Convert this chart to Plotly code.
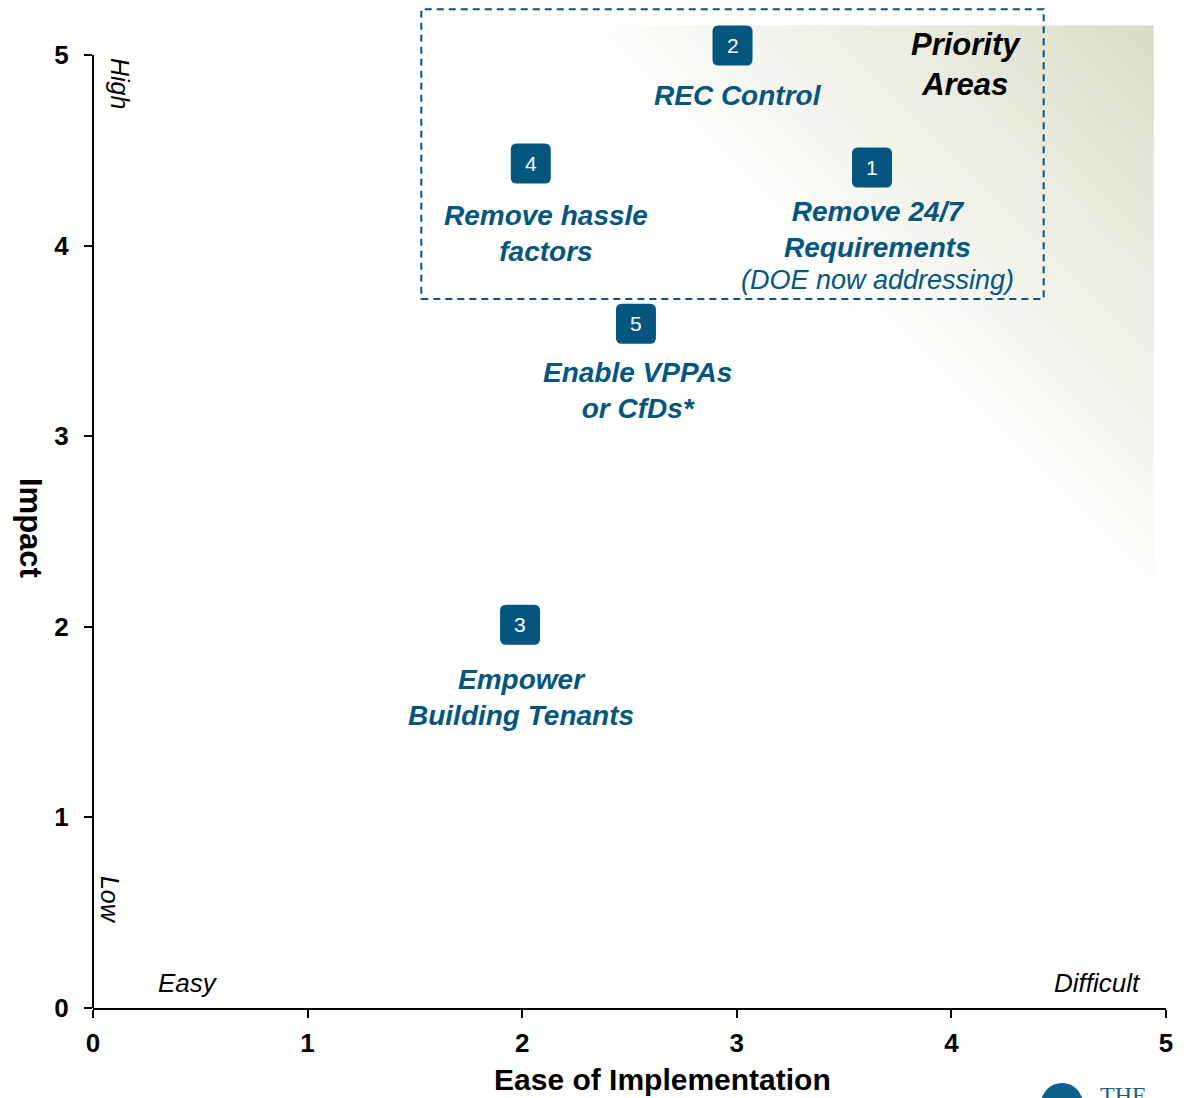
import numpy as np
import plotly.graph_objects as go

# Policy options scored on ease of implementation (x) and impact (y)
option_ids = [1, 2, 3, 4, 5]
ease = [3.63, 2.98, 1.99, 2.04, 2.53]
impact = [4.41, 5.05, 2.01, 4.43, 3.59]
option_titles = [
    "Remove 24/7<br>Requirements",
    "REC Control",
    "Empower<br>Building Tenants",
    "Remove hassle<br>factors",
    "Enable VPPAs<br>or CfDs*",
]
option_notes = ["(DOE now addressing)", "", "", "", ""]

tick_vals = [0, 1, 2, 3, 4, 5]
tick_text = ["0", "1", "2", "3", "4", "5"]

# Dashed "priority" box and the shaded wedge behind it (data units)
priority_x = [1.53, 4.43]
priority_y = [3.72, 5.24]
wedge_x = [2.18, 4.94]
wedge_y = [2.04, 5.15]

BLUE = "#05567f"
FONT = "Liberation Sans"

fig = go.Figure()

# Shaded wedge: fades from the diagonal toward the top-right corner
gx = np.linspace(wedge_x[0], wedge_x[1], 300)
gy = np.linspace(wedge_y[0], wedge_y[1], 300)
GX, GY = np.meshgrid(gx, gy)
t = (GX - wedge_x[0]) / (wedge_x[1] - wedge_x[0]) - (wedge_y[1] - GY) / (wedge_y[1] - wedge_y[0])
z = np.where(t >= 0, t, np.nan)
fig.add_trace(go.Heatmap(
    x=gx, y=gy, z=z, zmin=0, zmax=1,
    colorscale=[[0, "#ffffff"], [1, "#dbdcc6"]],
    showscale=False, hoverinfo="skip", zsmooth=False,
))

# invisible points so the options carry hover info
fig.add_trace(go.Scatter(
    x=ease, y=impact, mode="markers",
    marker=dict(size=40, color="rgba(0,0,0,0)"),
    text=[t_.replace("<br>", " ") for t_ in option_titles],
    hovertemplate="%{text}<br>Ease %{x}<br>Impact %{y}<extra></extra>",
    showlegend=False,
))

shapes = []
annotations = []

# priority box
shapes.append(dict(
    type="rect", xref="x", yref="y",
    x0=priority_x[0], x1=priority_x[1], y0=priority_y[0], y1=priority_y[1],
    line=dict(color=BLUE, width=2, dash="7px,5px"), fillcolor="rgba(0,0,0,0)",
    layer="above",
))

# y-axis line only up to the top tick
shapes.append(dict(
    type="line", xref="paper", yref="y", x0=0, x1=0, y0=0, y1=5,
    line=dict(color="black", width=2), layer="above",
))

# rounded square badges
h, r = 20, 6
badge = (f"M {-h+r},{-h} L {h-r},{-h} Q {h},{-h} {h},{-h+r} L {h},{h-r} Q {h},{h} {h-r},{h} "
         f"L {-h+r},{h} Q {-h},{h} {-h},{h-r} L {-h},{-h+r} Q {-h},{-h} {-h+r},{-h} Z")
# pixel offsets of each caption from its badge centre
label_shift = {1: (5, -27), 2: (5, -33), 3: (1, -37), 4: (15, -34), 5: (2, -31)}
note_shift = (5, -96)

for oid, x, y, title, note in zip(option_ids, ease, impact, option_titles, option_notes):
    shapes.append(dict(
        type="path", xref="x", yref="y", xsizemode="pixel", ysizemode="pixel",
        xanchor=x, yanchor=y, path=badge, fillcolor=BLUE, line=dict(width=0),
        layer="above",
    ))
    annotations.append(dict(
        x=x, y=y, xref="x", yref="y", text=str(oid), showarrow=False,
        font=dict(family=FONT, size=21, color="white"),
        xanchor="center", yanchor="middle",
    ))
    dx, dy = label_shift[oid]
    annotations.append(dict(
        x=x, y=y, xref="x", yref="y", text=f"<b><i>{title}</i></b>", showarrow=False,
        font=dict(family=FONT, size=28, color=BLUE), align="center",
        xanchor="center", yanchor="top", xshift=dx, yshift=dy,
    ))
    if note:
        annotations.append(dict(
            x=x, y=y, xref="x", yref="y", text=f"<i>{note}</i>", showarrow=False,
            font=dict(family=FONT, size=27, color=BLUE), align="center",
            xanchor="center", yanchor="top", xshift=note_shift[0], yshift=note_shift[1],
        ))

# corner captions
annotations += [
    dict(x=4.07, y=5.155, xref="x", yref="y", text="<b><i>Priority<br>Areas</i></b>",
         showarrow=False, font=dict(family=FONT, size=31, color="black"),
         align="center", xanchor="center", yanchor="top"),
    dict(x=0.126, y=4.853, xref="x", yref="y", text="<i>High</i>", textangle=90,
         showarrow=False, font=dict(family=FONT, size=25, color="black")),
    dict(x=0.079, y=0.567, xref="x", yref="y", text="<i>Low</i>", textangle=90,
         showarrow=False, font=dict(family=FONT, size=25, color="black")),
    dict(x=0.443, y=0.131, xref="x", yref="y", text="<i>Easy</i>",
         showarrow=False, font=dict(family=FONT, size=26, color="black")),
    dict(x=4.683, y=0.131, xref="x", yref="y", text="<i>Difficult</i>",
         showarrow=False, font=dict(family=FONT, size=26, color="black")),
    # axis titles
    dict(x=0.531, y=-0.0715, xref="paper", yref="paper", text="<b>Ease of Implementation</b>",
         showarrow=False, font=dict(family=FONT, size=30, color="black"),
         xanchor="center", yanchor="middle"),
    dict(x=-0.0587, y=0.4786, xref="paper", yref="paper", text="<b>Impact</b>", textangle=90,
         showarrow=False, font=dict(family=FONT, size=31, color="black"),
         xanchor="center", yanchor="middle"),
    # logo wordmark
    dict(x=0.9366, y=-0.072, xref="paper", yref="paper", text="THE",
         showarrow=False, font=dict(family="Liberation Serif", size=24, color="#1b5f8a"),
         xanchor="left", yanchor="top"),
]

# logo mark
shapes.append(dict(
    type="circle", xref="paper", yref="paper",
    x0=0.8835, x1=0.9226, y0=-0.1167, y1=-0.0748,
    fillcolor="#0d5f8c", line=dict(width=0), layer="above",
))

fig.update_layout(
    width=1186, height=1098,
    margin=dict(l=93, r=20, t=5, b=90),
    plot_bgcolor="white", paper_bgcolor="white",
    showlegend=False,
    shapes=shapes, annotations=annotations,
    xaxis=dict(
        range=[0, 5], tickvals=tick_vals, ticktext=tick_text,
        showgrid=False, zeroline=False, showline=True, linecolor="black", linewidth=2,
        ticks="outside", ticklen=8, tickwidth=2, tickcolor="black",
        tickfont=dict(family=FONT, size=26, color="black", weight="bold"),
        ticklabelstandoff=3, fixedrange=True,
    ),
    yaxis=dict(
        range=[0, 5.262], tickvals=tick_vals, ticktext=tick_text,
        showgrid=False, zeroline=False, showline=False,
        ticks="outside", ticklen=8, tickwidth=2, tickcolor="black",
        tickfont=dict(family=FONT, size=26, color="black", weight="bold"),
        ticklabelstandoff=10, fixedrange=True,
    ),
)

fig.write_html("out.html")
